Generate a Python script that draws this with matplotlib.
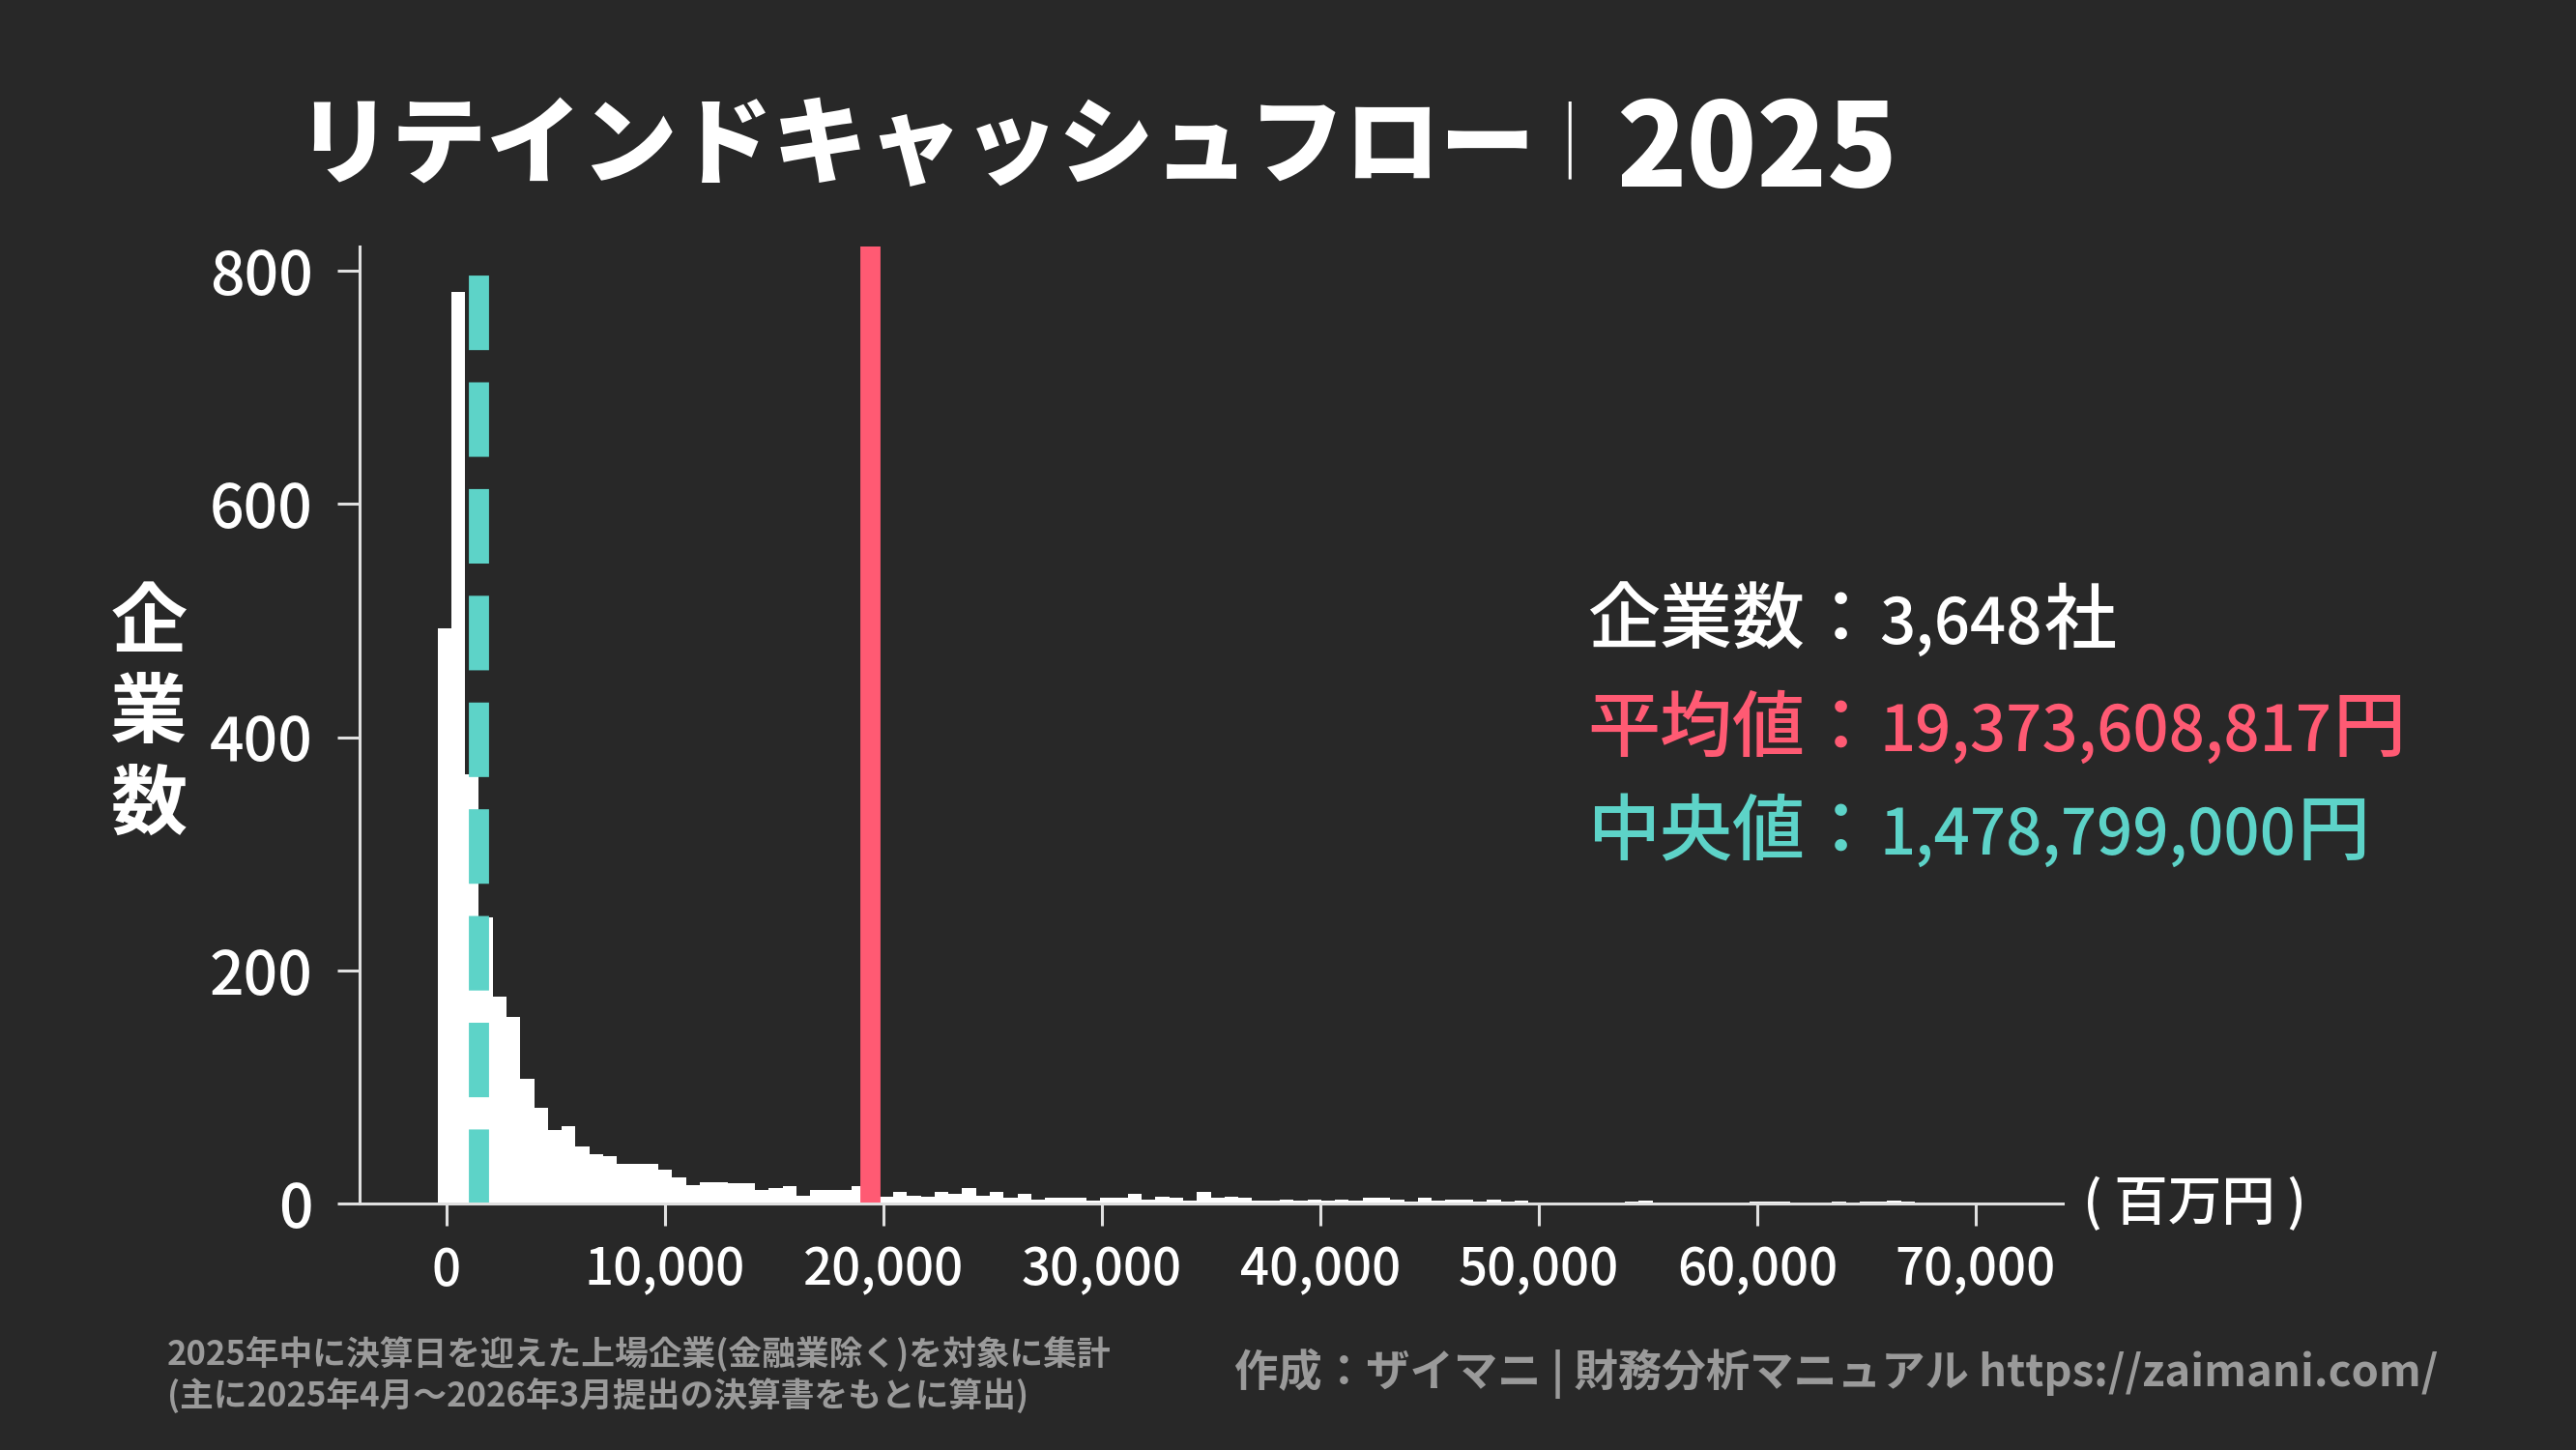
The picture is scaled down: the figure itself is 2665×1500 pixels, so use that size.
import matplotlib
matplotlib.use('Agg')
import matplotlib.pyplot as plt
import numpy as np

# histogram of retained cash flow (unit: million yen)
bin_start = -410
bin_width = 632
counts = [493, 782, 368, 246, 178, 160, 107, 82, 63, 67, 49, 43, 41, 34, 34, 34,
          29, 23, 16, 19, 19, 18, 18, 12, 14, 15, 7, 12, 12, 12, 15, 10,
          6, 10, 7, 6, 10, 9, 14, 7, 10, 5,
          9, 4, 5, 5, 5, 3, 5, 5, 9, 4, 6, 5, 3, 10, 5, 6, 5, 3, 3, 4, 3, 4, 3, 4,
          3, 5, 5, 4, 2, 5, 3, 4, 4, 2, 4,
          2, 3, 1, 1, 1, 1, 1, 1, 1, 2, 3, 1, 1, 1, 1, 1, 1, 1, 2, 2, 2, 1, 1, 1,
          2, 1, 2, 2, 3, 2]

n_companies = 3648
mean_value = 19373.608817    # million yen
median_value = 1478.799      # million yen

xticks = [0, 10000, 20000, 30000, 40000, 50000, 60000, 70000]
yticks = [0, 200, 400, 600, 800]

title_main = 'リテインドキャッシュフロー'
title_year = '2025'
note_lines = ['2025年中に決算日を迎えた上場企業(金融業除く)を対象に集計',
              '(主に2025年4月〜2026年3月提出の決算書をもとに算出)']
credit = '作成：ザイマニ | 財務分析マニュアル https://zaimani.com/'

bg = '#282828'
red = '#ff5a73'
teal = '#5dd3c8'
grey = '#9a9a9a'
jp = 'Noto Sans CJK JP'
plt.rcParams['font.family'] = [jp, 'DejaVu Sans']

W, H = 2665, 1500
fig = plt.figure(figsize=(W / 100, H / 100), dpi=100, facecolor=bg)
ax = fig.add_axes([0.1394, 0.1697, 0.6615, 0.6606])
ax.set_facecolor(bg)

edges = bin_start + bin_width * np.arange(len(counts))
ax.bar(edges, counts, width=bin_width, align='edge', color='white', linewidth=0, zorder=2)

ax.axvline(median_value, color=teal, lw=15, ls='--', zorder=3)
ax.axvline(mean_value, color=red, lw=15, zorder=3)

ax.set_xlim(-4000, 74000)
ax.set_ylim(0, max(counts) * 1.05)
ax.set_xticks(xticks)
ax.set_xticklabels([f'{v:,}' for v in xticks])
ax.set_yticks(yticks)

for s in ['top', 'right']:
    ax.spines[s].set_visible(False)
for s in ['left', 'bottom']:
    ax.spines[s].set_color('#e0e0e0')
    ax.spines[s].set_linewidth(2.2)
    ax.spines[s].set_zorder(4)
ax.tick_params(length=16.5, width=2.2, color='#e0e0e0', labelcolor='white')
ax.tick_params(axis='x', pad=14, labelsize=38)
ax.tick_params(axis='y', pad=18, labelsize=45)
for lab in ax.get_xticklabels() + ax.get_yticklabels():
    lab.set_fontweight('medium')

# axis labels
fig.text(154 / W, 1 - 739 / H, '企\n業\n数', color='white', fontsize=57,
         fontweight='bold', ha='center', va='center', linespacing=1.2)
fig.text(2155 / W, 1 - 1246 / H, '( 百万円 )', color='white', fontsize=40,
         fontweight='medium', ha='left', va='center')

# title
fig.text(306 / W, 1 - 153 / H, title_main, color='white', fontsize=71,
         fontweight='black', ha='left', va='center')
fig.text(1623 / W, 1 - 153 / H, '｜', color='white', fontsize=58,
         fontweight='light', ha='center', va='center')
fig.text(1672 / W, 1 - 193 / H, title_year, color='white', fontsize=86,
         fontweight='black', ha='left', va='baseline')

# summary numbers: label, number and unit set side by side
renderer = fig.canvas.get_renderer()
stats = [('企業数：', f'{n_companies:,}', '社', 'white', 666),
         ('平均値：', f'{int(round(mean_value * 1e6)):,}', '円', red, 777),
         ('中央値：', f'{int(round(median_value * 1e6)):,}', '円', teal, 884)]
for label, num, unit, col, ypix in stats:
    x = 1642 / W
    y = 1 - ypix / H
    for piece, size in [(label, 54), (num, 47), (unit, 54)]:
        t = fig.text(x, y, piece, color=col, fontsize=size,
                     fontweight='medium', ha='left', va='baseline')
        x = t.get_window_extent(renderer).x1 / W + 2 / W

# footer
fig.text(173 / W, 1 - 1423 / H, '\n'.join(note_lines), color=grey, fontsize=25,
         fontweight='bold', ha='left', va='center', linespacing=1.2)
fig.text(2522 / W, 1 - 1421 / H, credit, color=grey, fontsize=32.7,
         fontweight='bold', ha='right', va='center')

fig.savefig('out.png', dpi=100, facecolor=bg)
